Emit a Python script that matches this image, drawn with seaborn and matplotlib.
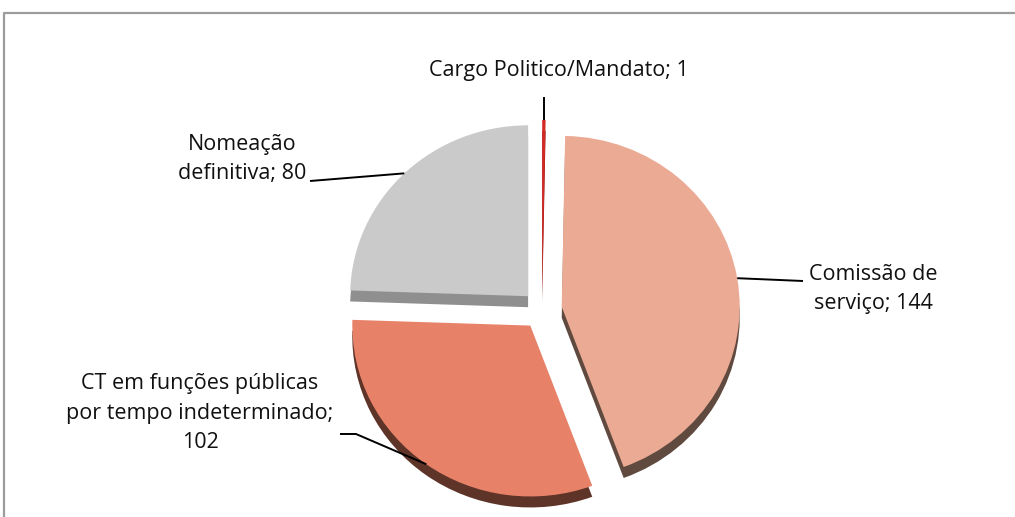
import numpy as np
import matplotlib
matplotlib.use("Agg")
import matplotlib.pyplot as plt
import seaborn as sns

# --- data -----------------------------------------------------------------
categories = ["Cargo Politico/Mandato",
              "Comissão de\nserviço",
              "CT em funções públicas\npor tempo indeterminado",
              "Nomeação\ndefinitiva"]
values = [1, 144, 102, 80]
value_separators = ["; ", "; ", ";\n", "; "]

top_colors = ["#D42A26", "#EBAA93", "#E78269", "#CACACA"]
side_colors = ["#7E1512", "#604A40", "#5E3328", "#8F8F8F"]

# --- canvas in pixel-like units --------------------------------------------
W, H = 1015, 517
SY = 0.96          # slight vertical squash for the tilted pie
DEPTH = 11         # thickness of the pie in pixels
R = 178
explode = [20, 20, 20, 20]   # offset of each slice, in data units

sns.set_theme(style="white")
plt.rcParams["font.family"] = ["Open Sans", "DejaVu Sans"]

fig = plt.figure(figsize=(W / 100, H / 100), dpi=100)
ax = fig.add_axes([0, 0, 1, 1])


def px(x, y):
    """Convert pixel position (origin top-left) to data units."""
    return x, (H - y) / SY


cx, cy = px(542, 310)

pie_kw = dict(explode=explode, startangle=90, counterclock=False,
              radius=R, frame=True)

# side walls: same pie shifted down
side, _ = ax.pie(values, colors=side_colors, center=(cx, cy - DEPTH / SY),
                 wedgeprops=dict(linewidth=0, zorder=1), **pie_kw)
# top faces
top, _ = ax.pie(values, colors=top_colors, center=(cx, cy),
                wedgeprops=dict(linewidth=0, zorder=2), **pie_kw)

ax.set_aspect("auto")
ax.set_xlim(0, W)
ax.set_ylim(0, H / SY)
ax.axis("off")

# --- labels with leader lines ---------------------------------------------
label_pos = [(559, 70), (873, 289), (200, 413), (242, 159)]
leader_ends = [
    [(None, 97)],            # straight up from the slice
    [(803, 281)],
    [(356, 434), (340, 434)],
    [(310, 181)],
]

for wedge, cat, sep, val, pos, ends in zip(top, categories, value_separators,
                                           values, label_pos, leader_ends):
    mid = np.deg2rad((wedge.theta1 + wedge.theta2) / 2)
    x0 = wedge.center[0] + wedge.r * np.cos(mid)
    y0 = wedge.center[1] + wedge.r * np.sin(mid)
    pts = [px(x0 if ex is None else ex, ey) for ex, ey in ends]
    xs = [x0] + [p[0] for p in pts]
    ys = [y0] + [p[1] for p in pts]
    ax.plot(xs, ys, color="black", lw=1.4, zorder=3, solid_capstyle="butt")
    tx, ty = px(*pos)
    ax.text(tx, ty, f"{cat}{sep}{val}", ha="center", va="center",
            fontsize=15.5, color="#111111", linespacing=1.5, zorder=4)

# --- chart area border ----------------------------------------------------
bx0, by0 = px(4.5, 12.5)
ax.plot([bx0, bx0, W + 5], [-5, by0, by0], color="#9C9C9C", lw=1.6,
        clip_on=False, zorder=5)

fig.savefig("out.png", dpi=100, facecolor="white")
